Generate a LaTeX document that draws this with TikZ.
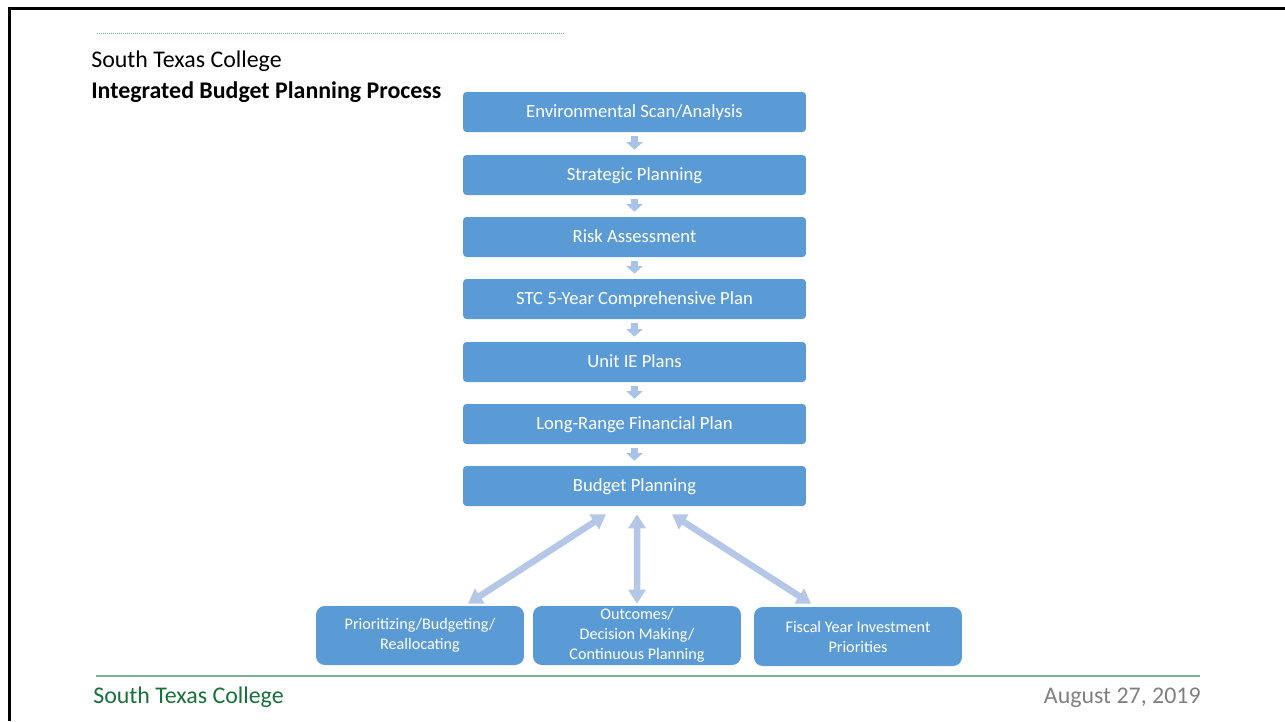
\documentclass[tikz,border=0pt]{standalone}
\usepackage{fontspec}
\setmainfont{Carlito}
\usetikzlibrary{arrows.meta}
\definecolor{stcblue}{HTML}{5B9BD5}
\definecolor{stcpale}{HTML}{A9C3E8}
\definecolor{stcarrow}{HTML}{B4C7E7}
\definecolor{stcgreen}{RGB}{23,113,58}
\definecolor{stcline}{RGB}{120,180,145}
\tikzset{
  heading/.style={inner sep=0pt, font=\fontsize{13.6}{15}\selectfont},
  stage/.style={fill=stcblue, rounded corners=2pt, text=white, inner sep=0pt,
    minimum width=6.86cm, minimum height=0.8cm, text height=0.7em, text depth=0.02em,
    font=\fontsize{10.6}{12}\selectfont},
  outcome/.style={fill=stcblue, rounded corners=5pt, text=white, inner sep=0pt, align=center,
    minimum width=4.16cm, minimum height=1.18cm, font=\fontsize{9.2}{11.4}\selectfont},
  flow arrow/.style={stcpale, line width=0.15cm, shorten <=0.08cm, shorten >=0.1cm,
    -{Triangle[width=0.32cm,length=0.15cm]}},
  link arrow/.style={stcarrow, line width=0.13cm,
    {Triangle[width=0.34cm,length=0.28cm]}-{Triangle[width=0.34cm,length=0.28cm]}}
}

\begin{document}
\begin{tikzpicture}[x=0.02cm,y=-0.02cm]
    \useasboundingbox (0,0) rectangle (1285,721);
    \draw[line width=0.06cm] (9.5,721) -- (9.5,8.5) -- (1285,8.5);
    \draw[stcline, line width=0.02cm, dash pattern=on 0.02cm off 0.02cm] (97,33) -- (565,33);

    \node[heading, anchor=base west] (college) at (91,67) {South Texas College};
    \node[heading, anchor=base west, font=\fontsize{13.6}{15}\selectfont\bfseries] (title) at (91,98) {Integrated Budget Planning Process};

    \node[stage] (env) at (634.5,112) {Environmental Scan/Analysis};
    \node[stage] (strat) at (634.5,175) {Strategic Planning};
    \node[stage] (risk) at (634.5,237) {Risk Assessment};
    \node[stage] (comp) at (634.5,299) {STC 5-Year Comprehensive Plan};
    \node[stage] (unit) at (634.5,362) {Unit IE Plans};
    \node[stage] (longrange) at (634.5,424) {Long-Range Financial Plan};
    \node[stage] (budget) at (634.5,486) {Budget Planning};

    \draw[flow arrow] (env) -- (strat);
    \draw[flow arrow] (strat) -- (risk);
    \draw[flow arrow] (risk) -- (comp);
    \draw[flow arrow] (comp) -- (unit);
    \draw[flow arrow] (unit) -- (longrange);
    \draw[flow arrow] (longrange) -- (budget);

    \node[outcome] (prio) at (420,635.5) {Prioritizing/Budgeting/\\Reallocating};
    \node[outcome] (decide) at (637,635.5) {Outcomes/\\Decision Making/\\Continuous Planning};
    \node[outcome] (fiscal) at (858,636.5) {Fiscal Year Investment\\Priorities};

    \draw[link arrow] ([shift={(-28.5,8)}]budget.south) -- ([shift={(48,-2)}]prio.north);
    \draw[link arrow] ([shift={(2.5,8)}]budget.south) -- ([shift={(0,-2)}]decide.north);
    \draw[link arrow] ([shift={(37.5,8)}]budget.south) -- ([shift={(-47,-3)}]fiscal.north);

    \draw[stcline, line width=0.03cm] (96,676) -- (1200,676);
    \node[heading, anchor=base west, text=stcgreen] (footer) at (93,703) {South Texas College};
    \node[heading, anchor=base east, text=black!50] (date) at (1201,703) {August 27, 2019};
\end{tikzpicture}
\end{document}
